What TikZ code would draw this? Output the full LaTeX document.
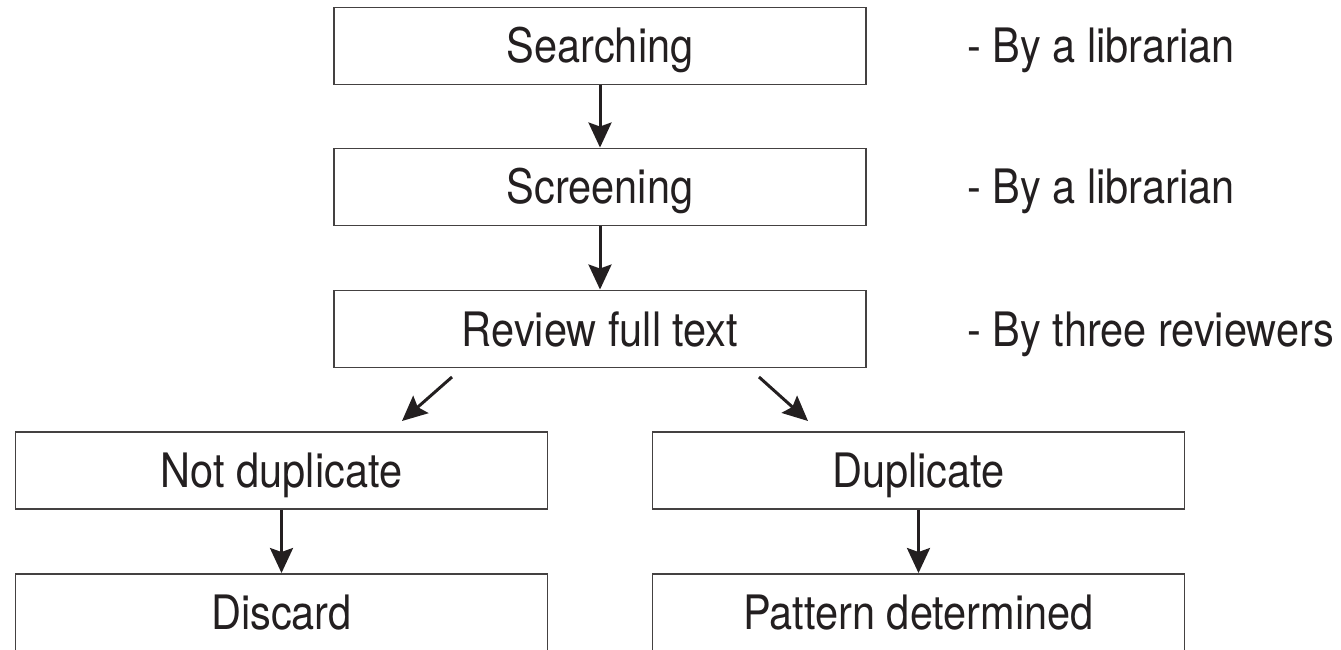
\documentclass[tikz,border=0pt]{standalone}
\usepackage{fontspec}
\setmainfont[FakeStretch=0.875]{TeX Gyre Heros}
\usetikzlibrary{arrows.meta}
\definecolor{inkgray}{HTML}{231F20}
\tikzset{
  stage/.style={draw=inkgray!85, line width=1.1pt, minimum width=10.64cm,
    minimum height=1.54cm, inner sep=0pt, text=inkgray,
    text height=0.68cm, text depth=0cm, font=\fontsize{27}{32}\selectfont},
  note/.style={anchor=west, inner sep=0pt, text=inkgray,
    text height=0.68cm, text depth=0cm, font=\fontsize{27}{32}\selectfont},
  flow/.style={-{Stealth[length=0.5cm,width=0.46cm,inset=0.08cm]},
    line width=1.7pt, draw=inkgray}
}

\begin{document}
\begin{tikzpicture}
    \useasboundingbox (0,0) rectangle (26.82,12.98);
    % main column
    \node[stage] (search) at (12,12.06) {Searching};
    \node[stage] (screen) at (12,9.24) {Screening};
    \node[stage] (review) at (12,6.40) {Review full text};
    % two branches
    \node[stage] (notdup) at (5.63,3.57) {Not duplicate};
    \node[stage] (dup) at (18.37,3.57) {Duplicate};
    \node[stage] (discard) at (5.63,0.73) {Discard};
    \node[stage] (pattern) at (18.37,0.73) {Pattern determined};
    \foreach \a/\b in {search/screen,screen/review,notdup/discard,dup/pattern}
    \draw[flow] (\a) -- (\b);
    % split arrows
    \coordinate (splitL) at (9.04,5.44);
    \coordinate (tipL) at (8.04,4.56);
    \coordinate (splitR) at (15.18,5.44);
    \coordinate (tipR) at (16.16,4.56);
    \draw[flow] (splitL) -- (tipL);
    \draw[flow] (splitR) -- (tipR);
    % who does it
    \node[note] (bysearch) at (19.34,12.06) {- By a librarian};
    \node[note] (byscreen) at (19.34,9.24) {- By a librarian};
    \node[note] (byreview) at (19.34,6.40) {- By three reviewers};
\end{tikzpicture}
\end{document}
